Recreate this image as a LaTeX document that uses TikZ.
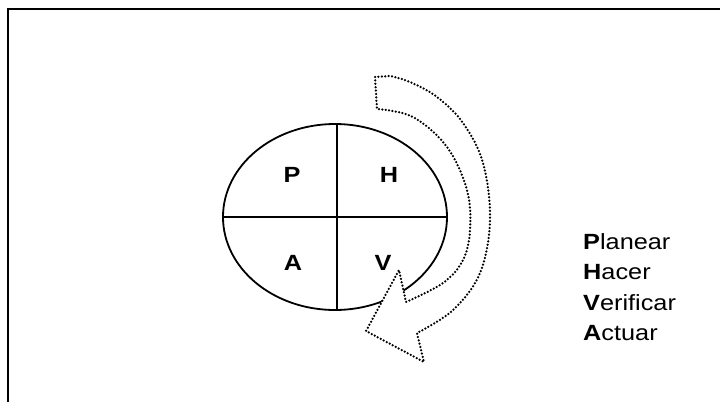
\documentclass[tikz,border=0pt]{standalone}
\usepackage{fontspec}
\setmainfont{Liberation Sans}
\newfontfamily\labfont[FakeStretch=1.15]{Liberation Sans}
\begin{document}
\begin{tikzpicture}[x=1pt,y=-1pt,
  solidline/.style={line width=1.8pt, black},
  dotline/.style={line width=2.5pt, dash pattern=on 0pt off 3.4pt, line cap=round, black},
  quad/.style={font=\labfont\fontsize{22}{26}\selectfont\bfseries, inner sep=0pt},
  listtext/.style={font=\labfont\fontsize{22}{26}\selectfont, anchor=base west, inner sep=0pt}]
\useasboundingbox (0,0) rectangle (720,402);
% frame
\draw[line width=2pt] (8,402) -- (8,9) -- (720,9);
% ellipse
\draw[solidline] (335,217) ellipse [x radius=112, y radius=93];
\coordinate (hl) at (223,217);
\coordinate (hr) at (447,217);
\coordinate (vt) at (337,124);
\coordinate (vb) at (337,310);
\draw[solidline] (hl) -- (hr);
\draw[solidline] (vt) -- (vb);
% quadrant labels
\node[quad] (P) at (292,175) {P};
\node[quad] (H) at (389,175) {H};
\node[quad] (A) at (293,263) {A};
\node[quad] (V) at (383,263) {V};
% curved arrow
\fill[white] (375,77) -- (377,109)
  -- plot[smooth, tension=0.6] coordinates {(377,109) (413,117) (447,147) (467,190) (470,230) (463,260) (443,283) (406,302)}
  -- (399,270) -- (366,331) -- (424,362) -- (417,333)
  -- plot[smooth, tension=0.6] coordinates {(417,333) (453,310) (480,273) (490,220) (483,163) (463,123) (437,97) (410,82) (390,76)}
  -- cycle;
\draw[dotline] (375,77) -- (377,109)
  -- plot[smooth, tension=0.6] coordinates {(377,109) (413,117) (447,147) (467,190) (470,230) (463,260) (443,283) (406,302)}
  -- (399,270) -- (366,331) -- (424,362) -- (417,333)
  -- plot[smooth, tension=0.6] coordinates {(417,333) (453,310) (480,273) (490,220) (483,163) (463,123) (437,97) (410,82) (390,76)}
  -- cycle;
% legend
\node[listtext] (l1) at (583,249) {\textbf{P}lanear};
\node[listtext] (l2) at (583,279) {\textbf{H}acer};
\node[listtext] (l3) at (583,310) {\textbf{V}erificar};
\node[listtext] (l4) at (583,340) {\textbf{A}ctuar};
\end{tikzpicture}
\end{document}
